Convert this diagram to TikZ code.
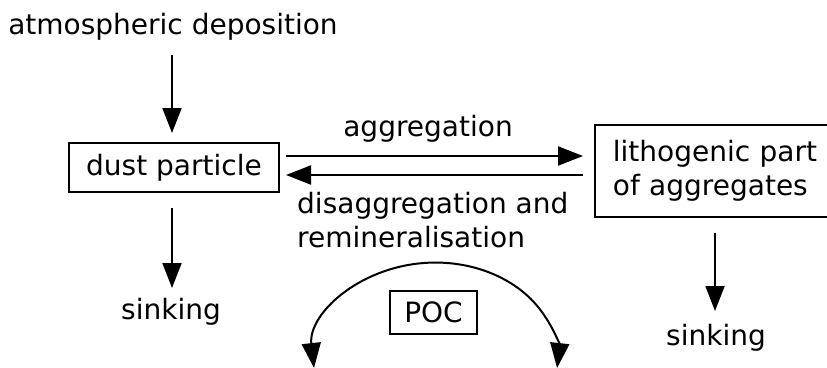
\documentclass[tikz,border=0pt]{standalone}
\usepackage{fontspec}
\setmainfont{DejaVu Sans}
\usetikzlibrary{arrows.meta}
\begin{document}
\begin{tikzpicture}[x=1pt,y=1pt,
  every node/.style={font=\fontsize{28}{34}\selectfont, inner sep=0pt},
  box/.style={draw, line width=1.8pt},
  tip/.tip={Triangle[length=25pt,width=19pt]},
  arr/.style={line width=2pt, -tip},
  darr/.style={line width=2pt, tip-tip}]
\useasboundingbox (0,0) rectangle (827,-367);
\node (atm) at (173,-27) {atmospheric deposition};
\node[box, minimum width=210pt, minimum height=49pt] (dust) at (174,-167.5) {dust particle};
\node[box, anchor=north west, minimum height=92pt, text width=210pt, inner xsep=18pt, align=left] (lith) at (594,-124) {lithogenic part\\of aggregates};
\node (aggl) at (428,-129) {aggregation};
\node[anchor=north west, align=left] (dis) at (297,-192) {disaggregation and\\remineralisation};
\node (sink1) at (171,-312) {sinking};
\node (sink2) at (716,-338) {sinking};
\node[box, minimum width=87pt, minimum height=43pt] (poc) at (433.5,-312.5) {POC};
\coordinate (a1s) at (172,-55);
\coordinate (a1e) at (172,-133);
\draw[arr] (a1s) -- (a1e);
\coordinate (g1s) at (286,-156);
\coordinate (g1e) at (583,-156);
\draw[arr] (g1s) -- (g1e);
\coordinate (g2s) at (583,-175);
\coordinate (g2e) at (286,-175);
\draw[arr] (g2s) -- (g2e);
\coordinate (s1s) at (172,-208);
\coordinate (s1e) at (172,-288);
\draw[arr] (s1s) -- (s1e);
\coordinate (s2s) at (715,-233);
\coordinate (s2e) at (715,-311);
\draw[arr] (s2s) -- (s2e);
\coordinate (arcs) at (314,-368);
\draw[darr] (arcs) arc[start angle=185, end angle=-5, x radius=122pt, y radius=97pt];
\end{tikzpicture}
\end{document}
